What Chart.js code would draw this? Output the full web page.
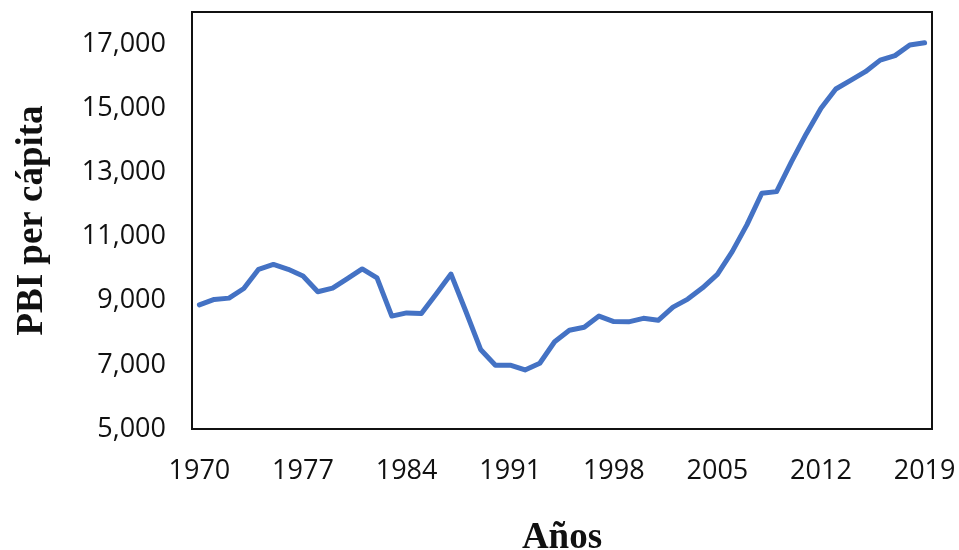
<!DOCTYPE html>
<html lang="es">
<head>
    <meta charset="UTF-8">
    <meta name="viewport" content="width=device-width, initial-scale=1.0">
    <title>PBI per cápita</title>
    <style>
        body {
            margin: 0;
            padding: 0;
            background-color: #ffffff;
        }

        .chart-box {
            position: relative;
            width: 959px;
            height: 550px;
        }
    </style>
    <script src="https://cdn.jsdelivr.net/npm/chart.js"></script>
</head>
<body>
    <div class="chart-box">
        <canvas id="pbiChart" width="959" height="550"></canvas>
    </div>

    <script>
        // Años (1970 - 2019)
        const years = [
            1970, 1971, 1972, 1973, 1974, 1975, 1976, 1977, 1978, 1979,
            1980, 1981, 1982, 1983, 1984, 1985, 1986, 1987, 1988, 1989,
            1990, 1991, 1992, 1993, 1994, 1995, 1996, 1997, 1998, 1999,
            2000, 2001, 2002, 2003, 2004, 2005, 2006, 2007, 2008, 2009,
            2010, 2011, 2012, 2013, 2014, 2015, 2016, 2017, 2018, 2019
        ];

        // PBI per cápita
        const pbiPerCapita = [
            8870, 9040, 9080, 9380, 9980, 10130, 9980, 9770, 9280, 9390,
            9690, 9990, 9710, 8520, 8620, 8600, 9210, 9830, 8670, 7480,
            6990, 6990, 6840, 7050, 7720, 8080, 8170, 8520, 8350, 8340,
            8450, 8390, 8800, 9050, 9400, 9820, 10530, 11370, 12350, 12400,
            13330, 14200, 15000, 15600, 15870, 16140, 16500, 16640, 16970, 17040
        ];

        // Marcas del eje vertical
        const yTicks = [5000, 7000, 9000, 11000, 13000, 15000, 17000];
        const yMin = 5000;
        const yMax = 18000;

        // Cada cuántos años se rotula el eje horizontal
        const yearStep = 7;

        // Marco negro alrededor del área de trazado
        const frameBox = {
            id: 'frameBox',
            afterDraw(chart) {
                const a = chart.chartArea;
                const ctx = chart.ctx;
                ctx.save();
                ctx.strokeStyle = '#111111';
                ctx.lineWidth = 2;
                ctx.strokeRect(a.left, a.top, a.right - a.left, a.bottom - a.top);
                ctx.restore();
            }
        };

        // quitar el relleno automático que Chart.js añade por las etiquetas
        function noScalePadding(scale) {
            scale.paddingTop = 0;
            scale.paddingBottom = 0;
            scale.paddingLeft = 0;
            scale.paddingRight = 0;
        }

        const tickFont = { family: '"Open Sans", "Liberation Sans", sans-serif', size: 27 };
        const titleFont = { family: '"Liberation Serif", "Times New Roman", serif', size: 37, weight: 'bold' };

        new Chart(document.getElementById('pbiChart').getContext('2d'), {
            type: 'line',
            data: {
                labels: years,
                datasets: [{
                    label: 'PBI per cápita',
                    data: pbiPerCapita,
                    borderColor: '#4472C4',
                    borderWidth: 5,
                    borderJoinStyle: 'round',
                    borderCapStyle: 'round',
                    pointRadius: 0,
                    tension: 0,
                    fill: false
                }]
            },
            options: {
                responsive: false,
                animation: false,
                layout: {
                    padding: { top: 12, right: 27, left: 0, bottom: 0 }
                },
                plugins: {
                    legend: { display: false },
                    tooltip: { enabled: false }
                },
                scales: {
                    x: {
                        type: 'category',
                        offset: true,
                        grid: { display: false, drawTicks: false },
                        border: { display: false },
                        ticks: {
                            autoSkip: false,
                            maxRotation: 0,
                            padding: 26,
                            color: '#111111',
                            font: tickFont,
                            callback: function (val, i) {
                                return i % yearStep === 0 ? this.getLabelForValue(val) : '';
                            }
                        },
                        title: {
                            display: true,
                            text: 'Años',
                            color: '#111111',
                            font: Object.assign({ lineHeight: 0.6 }, titleFont),
                            padding: { top: 0, bottom: 0 }
                        },
                        afterFit: function (scale) {
                            scale.height = 121;
                            noScalePadding(scale);
                        }
                    },
                    y: {
                        min: yMin,
                        max: yMax,
                        grid: { display: false, drawTicks: false },
                        border: { display: false },
                        afterBuildTicks: function (scale) {
                            scale.ticks = yTicks.map(v => ({ value: v }));
                        },
                        ticks: {
                            padding: 26,
                            color: '#111111',
                            font: tickFont,
                            callback: function (v) {
                                return v.toLocaleString('en-US');
                            }
                        },
                        title: {
                            display: true,
                            text: 'PBI per cápita',
                            color: '#111111',
                            font: titleFont,
                            padding: { top: 10, bottom: 0 }
                        },
                        afterFit: function (scale) {
                            scale.width = 192;
                            noScalePadding(scale);
                        }
                    }
                }
            },
            plugins: [frameBox]
        });
    </script>
</body>
</html>
